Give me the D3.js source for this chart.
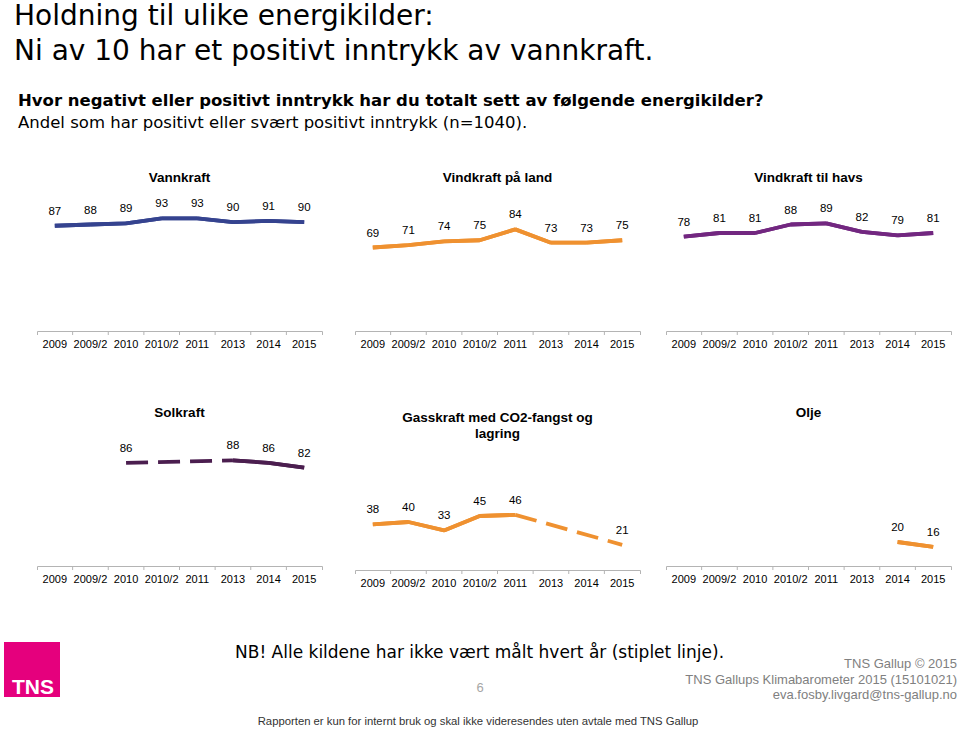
<!DOCTYPE html>
<html><head><meta charset="utf-8">
<script src="https://cdn.jsdelivr.net/npm/d3@7"></script>
<style>body{margin:0;background:#fff} svg{display:block}</style>
</head><body>
<svg id="c" width="960" height="729"></svg>
<script>
// ---- data ----
const categories = ["2009","2009/2","2010","2010/2","2011","2013","2014","2015"];
const vannkraft  = [87,88,89,93,93,90,91,90];
const vindLand   = [69,71,74,75,84,73,73,75];
const vindHavs   = [78,81,81,88,89,82,79,81];
const solkraft   = [null,null,86,null,null,88,86,82];
const gasskraft  = [38,40,33,45,46,null,null,21];
const olje       = [null,null,null,null,null,null,20,16];
const seriesNames = ["Vannkraft","Vindkraft på land","Vindkraft til havs","Solkraft","Gasskraft med CO2-fangst og lagring","Olje"];

const svg = d3.select("#c");

// ---- layout ----
const panels = [
  {data: vannkraft, lines:["Vannkraft"], color:"#35438f", x0:37,  x1:322, base:331, top:210, titleY:182},
  {data: vindLand,  lines:["Vindkraft på land"], color:"#ef9130", x0:355, x1:640, base:331, top:210, titleY:182},
  {data: vindHavs,  lines:["Vindkraft til havs"], color:"#722780", x0:666, x1:951, base:331, top:210, titleY:182},
  {data: solkraft,  lines:["Solkraft"], color:"#4b1e4f", x0:37,  x1:322, base:566, top:446, titleY:417},
  {data: gasskraft, lines:["Gasskraft med CO2-fangst og","lagring"], color:"#ef9130", x0:355, x1:640, base:570, top:450, titleY:422},
  {data: olje,      lines:["Olje"], color:"#ef9130", x0:666, x1:951, base:566, top:446, titleY:417}
];

panels.forEach(p => {
  const g = svg.append("g");
  const band = d3.scaleBand().domain(categories).range([p.x0, p.x1]).paddingInner(0).paddingOuter(0);
  const y = d3.scaleLinear().domain([0,100]).range([p.base, p.top]);
  const cx = c => band(c) + band.bandwidth()/2;

  // axis
  const axis = d3.axisBottom(band).tickSizeInner(0).tickSizeOuter(4).tickPadding(9);
  const ag = g.append("g").attr("transform", `translate(0,${p.base})`).call(axis);
  ag.select(".domain").attr("stroke","#b4b4b4");
  ag.selectAll("text").attr("font-family","Liberation Sans, Arial, sans-serif").attr("font-size",11).attr("fill","#000");
  ag.selectAll(".bnd").data(categories.slice(1)).enter().append("line")
    .attr("x1", c => band(c)).attr("x2", c => band(c))
    .attr("y1", 0).attr("y2", 4).attr("stroke","#b4b4b4");

  // title
  g.append("text").attr("x", (p.x0+p.x1)/2).attr("y", p.titleY)
    .attr("text-anchor","middle").attr("font-family","Liberation Sans, Arial, sans-serif")
    .attr("font-weight","bold").attr("font-size",13.5)
    .selectAll("tspan").data(p.lines).enter().append("tspan")
    .attr("x",(p.x0+p.x1)/2).attr("dy",(d,i)=> i===0?0:16).text(d=>d);

  // points
  const pts = p.data.map((v,i)=>({c:categories[i], v})).filter(d=>d.v!==null);

  // solid segments (adjacent measured points) & dashed (gaps)
  const lineGen = d3.line().x(d=>cx(d.c)).y(d=>y(d.v));
  const idx = p.data.map((v,i)=>v===null?null:i).filter(i=>i!==null);
  for (let k=0; k<idx.length-1; k++) {
    const a = idx[k], b = idx[k+1];
    const seg = [{c:categories[a], v:p.data[a]}, {c:categories[b], v:p.data[b]}];
    g.append("path").attr("d", lineGen(seg)).attr("fill","none")
      .attr("stroke", p.color).attr("stroke-width",3.8).attr("stroke-linecap","butt")
      .attr("stroke-dasharray", b-a>1 ? "22,10" : null);
  }
  // join smoothing for solid runs
  g.append("path").datum(p.data.map((v,i)=>({c:categories[i],v})))
    .attr("d", d3.line().defined(d=>d.v!==null).x(d=>cx(d.c)).y(d=>y(d.v)))
    .attr("fill","none").attr("stroke",p.color).attr("stroke-width",3.8).attr("stroke-linejoin","round");

  // labels
  g.selectAll(".lbl").data(pts).enter().append("text")
    .attr("x", d=>cx(d.c)).attr("y", d=>y(d.v)-11)
    .attr("text-anchor","middle").attr("font-family","Liberation Sans, Arial, sans-serif")
    .attr("font-size",11.5).attr("fill","#000").text(d=>d.v);
});

// ---- header ----
const hdr = svg.append("g").attr("font-family","DejaVu Sans, Verdana, sans-serif");
hdr.append("text").attr("x",14).attr("y",25).attr("font-size",28).text("Holdning til ulike energikilder:");
hdr.append("text").attr("x",14).attr("y",60).attr("font-size",28).text("Ni av 10 har et positivt inntrykk av vannkraft.");
hdr.append("text").attr("x",18).attr("y",106).attr("font-size",16.5).attr("font-weight","bold").text("Hvor negativt eller positivt inntrykk har du totalt sett av følgende energikilder?");
hdr.append("text").attr("x",18).attr("y",128).attr("font-size",16.5).text("Andel som har positivt eller svært positivt inntrykk (n=1040).");

// ---- footer ----
svg.append("rect").attr("x",4).attr("y",642).attr("width",56).attr("height",55).attr("fill","#e5007d");
svg.append("text").attr("x",12).attr("y",694).attr("font-family","Liberation Sans, Arial, sans-serif")
  .attr("font-weight","bold").attr("font-size",21).attr("fill","#fff").text("TNS");
svg.append("text").attr("x",235).attr("y",658).attr("font-family","DejaVu Sans, Verdana, sans-serif")
  .attr("font-size",17).text("NB! Alle kildene har ikke vært målt hvert år (stiplet linje).");
svg.append("text").attr("x",480).attr("y",692).attr("text-anchor","middle").attr("font-family","Liberation Sans, Arial, sans-serif")
  .attr("font-size",13).attr("fill","#a6a6a6").text("6");
const rt = svg.append("g").attr("font-family","Liberation Sans, Arial, sans-serif").attr("font-size",13).attr("fill","#808080").attr("text-anchor","end");
rt.append("text").attr("x",957).attr("y",668).text("TNS Gallup © 2015");
rt.append("text").attr("x",957).attr("y",684).text("TNS Gallups Klimabarometer 2015 (15101021)");
rt.append("text").attr("x",957).attr("y",699).text("eva.fosby.livgard@tns-gallup.no");
svg.append("text").attr("x",478).attr("y",725).attr("text-anchor","middle").attr("font-family","Liberation Sans, Arial, sans-serif")
  .attr("font-size",11.3).attr("fill","#333").text("Rapporten er kun for internt bruk og skal ikke videresendes uten avtale med TNS Gallup");
</script>
</body></html>
